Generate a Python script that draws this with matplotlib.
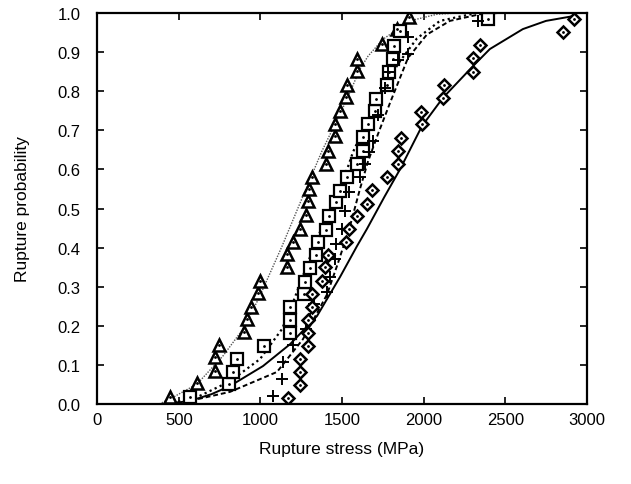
import matplotlib
matplotlib.use("Agg")
import matplotlib.pyplot as plt

plt.rcParams['font.family'] = ['Liberation Sans', 'DejaVu Sans']

# measured points (rupture stress in MPa, rupture probability)
tri_x = [447, 612, 722, 722, 747, 900, 918, 943, 986, 998, 1163, 1163, 1200, 1243, 1280,
         1292, 1298, 1316, 1402, 1414, 1457, 1457, 1488, 1525, 1531, 1592, 1592, 1745, 1837, 1910]
tri_y = [0.018, 0.054, 0.084, 0.120, 0.151, 0.184, 0.217, 0.248, 0.284, 0.315, 0.350, 0.384,
         0.414, 0.448, 0.483, 0.519, 0.550, 0.581, 0.614, 0.647, 0.685, 0.716, 0.749, 0.785,
         0.816, 0.852, 0.882, 0.921, 0.959, 0.990]

sq_x = [569, 808, 833, 857, 1022, 1182, 1182, 1182, 1267, 1273, 1304, 1341, 1353, 1402, 1420,
        1463, 1488, 1531, 1592, 1629, 1629, 1659, 1702, 1708, 1776, 1788, 1812, 1818, 1855, 2394]
sq_y = [0.018, 0.051, 0.082, 0.115, 0.148, 0.182, 0.215, 0.248, 0.281, 0.312, 0.348, 0.381,
        0.414, 0.445, 0.481, 0.517, 0.545, 0.581, 0.614, 0.647, 0.683, 0.716, 0.749, 0.780,
        0.816, 0.849, 0.882, 0.916, 0.954, 0.985]

plus_x = [1078, 1133, 1139, 1200, 1280, 1304, 1330, 1408, 1427, 1457, 1465, 1500, 1518, 1543,
          1610, 1641, 1665, 1690, 1720, 1763, 1782, 1843, 1904, 1904, 2333]
plus_y = [0.020, 0.064, 0.107, 0.151, 0.192, 0.217, 0.255, 0.286, 0.325, 0.371, 0.410, 0.448,
          0.494, 0.542, 0.581, 0.614, 0.645, 0.673, 0.740, 0.808, 0.849, 0.880, 0.895, 0.939, 0.980]

dia_x = [1169, 1243, 1243, 1243, 1292, 1292, 1292, 1316, 1316, 1378, 1396, 1414, 1525, 1543, 1592,
         1653, 1684, 1776, 1843, 1843, 1861, 1990, 1984, 2118, 2125, 2302, 2302, 2345, 2853, 2920]
dia_y = [0.015, 0.049, 0.082, 0.115, 0.148, 0.182, 0.215, 0.248, 0.281, 0.315, 0.350, 0.381,
         0.414, 0.448, 0.481, 0.511, 0.547, 0.581, 0.614, 0.647, 0.680, 0.716, 0.747, 0.783,
         0.816, 0.849, 0.885, 0.918, 0.951, 0.985]

# fitted curves
tri_fit_x = [380, 447, 612, 771, 894, 990, 1133, 1261, 1375, 1531, 1610, 1660, 1751, 1916, 2082, 2200]
tri_fit_y = [0.0, 0.013, 0.051, 0.123, 0.192, 0.27, 0.404, 0.532, 0.645, 0.78, 0.857, 0.89,
             0.933, 0.98, 0.997, 1.0]

sq_fit_x = [430, 600, 814, 998, 1133, 1200, 1322, 1414, 1531, 1567, 1650, 1751, 1843, 1959, 2100, 2300]
sq_fit_y = [0.0, 0.015, 0.058, 0.115, 0.192, 0.26, 0.396, 0.49, 0.60, 0.644, 0.72, 0.80, 0.87,
            0.935, 0.98, 0.998]

plus_fit_x = [430, 569, 814, 1102, 1261, 1408, 1475, 1549, 1610, 1659, 1720, 1794, 1904, 2020,
              2161, 2345, 2450]
plus_fit_y = [0.0, 0.008, 0.031, 0.082, 0.166, 0.28, 0.36, 0.455, 0.55, 0.62, 0.69, 0.77, 0.885,
              0.945, 0.98, 0.997, 1.0]

dia_fit_x = [430, 569, 700, 814, 1016, 1182, 1347, 1488, 1592, 1653, 1760, 1855, 1990, 2118, 2302,
             2406, 2608, 2750, 2914]
dia_fit_y = [0.0, 0.008, 0.025, 0.046, 0.097, 0.153, 0.225, 0.325, 0.404, 0.448, 0.53, 0.60, 0.711,
             0.783, 0.864, 0.908, 0.959, 0.98, 0.992]

fig = plt.figure(figsize=(6.31, 4.85), dpi=100)
ax = fig.add_axes([0.154, 0.165, 0.776, 0.806])

# curves
ax.plot(tri_fit_x, tri_fit_y, color='#555555', linestyle=(0, (1, 1)), linewidth=1.0)
ax.plot(sq_fit_x, sq_fit_y, color='black', linestyle=(0, (1, 1.5)), linewidth=1.6)
ax.plot(plus_fit_x, plus_fit_y, color='black', linestyle=(0, (2.5, 1.5)), linewidth=1.4)
ax.plot(dia_fit_x, dia_fit_y, color='black', linestyle='-', linewidth=1.4)

# markers
ax.plot(tri_x, tri_y, linestyle='none', marker='^', markersize=8, markerfacecolor='white',
        markeredgecolor='black', markeredgewidth=1.8)
ax.plot(sq_x, sq_y, linestyle='none', marker='s', markersize=8, markerfacecolor='white',
        markeredgecolor='black', markeredgewidth=1.6)
ax.plot(plus_x, plus_y, linestyle='none', marker='+', markersize=9, color='black',
        markeredgewidth=1.4)
ax.plot(dia_x, dia_y, linestyle='none', marker='D', markersize=6, markerfacecolor='white',
        markeredgecolor='black', markeredgewidth=1.8)

# small dots inside the open symbols
for xs, ys in [(tri_x, tri_y), (sq_x, sq_y), (dia_x, dia_y)]:
    ax.plot(xs, ys, linestyle='none', marker='.', markersize=2, color='black')

ax.set_xlim(0, 3000)
ax.set_ylim(0, 1.0)
ax.set_xticks(range(0, 3001, 500))
ax.set_yticks([i / 10 for i in range(11)])
ax.set_yticklabels([f'{i / 10:.1f}' for i in range(11)])
ax.tick_params(direction='in', top=True, right=True, length=5, width=1.2, labelsize=12)
ax.tick_params(axis='x', pad=6)
ax.tick_params(axis='y', pad=12)
for s in ax.spines.values():
    s.set_linewidth(1.6)

ax.set_xlabel('Rupture stress (MPa)', fontsize=12.5, labelpad=10)
ax.set_ylabel('Rupture probability', fontsize=12.5, labelpad=20)

fig.savefig('out.png', dpi=100)
